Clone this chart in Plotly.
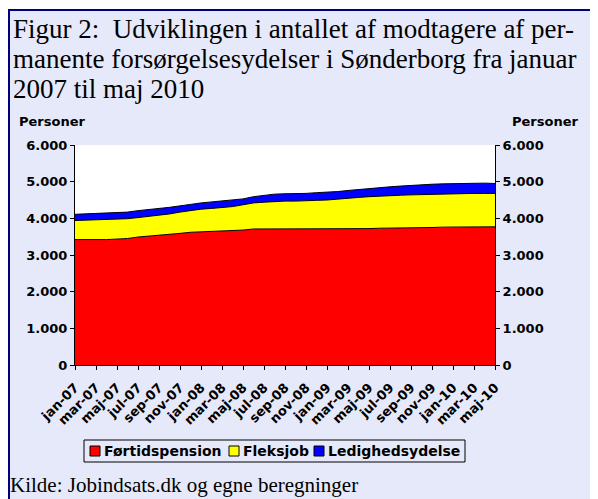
import plotly.graph_objects as go

# maanedlige observationer jan-07 .. maj-10
maanedsnavne = ["jan", "feb", "mar", "apr", "maj", "jun", "jul", "aug", "sep", "okt", "nov", "dec"]
maaneder = [f"{m}-{aar:02d}" for aar in (7, 8, 9, 10) for m in maanedsnavne][:41]

foertidspension = [3420, 3410, 3420, 3420, 3430, 3450, 3490, 3510, 3530, 3560,
                   3590, 3620, 3630, 3640, 3640, 3650, 3680, 3710, 3710, 3720,
                   3710, 3700, 3700, 3700, 3700, 3710, 3710, 3720, 3720, 3730,
                   3730, 3740, 3740, 3750, 3750, 3760, 3760, 3760, 3770, 3770, 3770]
fleksjob = [520, 540, 540, 550, 540, 540, 530, 540, 550, 560,
            580, 600, 620, 630, 650, 670, 690, 710, 730, 740,
            760, 770, 770, 790, 800, 820, 840, 850, 870, 880,
            890, 890, 900, 900, 910, 910, 920, 920, 910, 910, 910]
ledighedsydelse = [170, 170, 170, 170, 170, 180, 190, 200, 190, 180,
                   160, 160, 170, 180, 180, 170, 160, 170, 190, 200,
                   200, 200, 210, 210, 210, 200, 210, 220, 220, 220,
                   240, 250, 260, 260, 270, 270, 270, 280, 290, 280, 270]

aksemaerker = ["jan-07", "mar-07", "maj-07", "jul-07", "sep-07", "nov-07", "jan-08",
               "mar-08", "maj-08", "jul-08", "sep-08", "nov-08", "jan-09", "mar-09",
               "maj-09", "jul-09", "sep-09", "nov-09", "jan-10", "mar-10", "maj-10"]

serier = [("Førtidspension", foertidspension, "#FF0000"),
          ("Fleksjob", fleksjob, "#FFFF00"),
          ("Ledighedsydelse", ledighedsydelse, "#0000FF")]

BG = "#E6E9F9"
NAVY = "#00007F"
# siden har 8 px body-margin, saa figuren goeres tilsvarende mindre
W, H = 590, 491
L, R, T, B = 67, 103, 137, 134


# positioner angives i sidens pixels (plotomraade: x 75-495, y 145-365)
def px_x(px):
    return (px - 75) / 420


def px_y(py):
    return (365 - py) / 220


def boks(x0, x1, y0, y1, fyld, kant=None):
    fig.add_shape(type="rect", xref="paper", yref="paper",
                  x0=px_x(x0), x1=px_x(x1), y0=px_y(y0), y1=px_y(y1),
                  fillcolor=fyld, line=dict(color=kant or fyld, width=1 if kant else 0),
                  layer="below" if kant is None else "above")


fig = go.Figure()
for navn, vaerdier, farve in serier:
    fig.add_trace(go.Scatter(x=maaneder, y=vaerdier, name=navn, stackgroup="a",
                             mode="lines", line=dict(color="black", width=1),
                             fillcolor=farve, showlegend=False, hoverinfo="x+y+name"))
# tom serie, saa hoejre akse bliver tegnet
fig.add_trace(go.Scatter(x=[None], y=[None], yaxis="y2", showlegend=False, hoverinfo="skip"))

tick_font = dict(family="DejaVu Sans", size=13, color="black", weight="bold")

fig.update_layout(
    width=W, height=H,
    margin=dict(l=L, r=R, t=T, b=B, pad=0, autoexpand=False),
    paper_bgcolor=BG, plot_bgcolor="white",
    separators=",.",
    showlegend=False,
    xaxis=dict(type="category", range=[0, 40], tickvals=aksemaerker, ticktext=aksemaerker,
               tickangle=-45, ticks="outside", ticklen=4, tickcolor="black",
               ticklabelstandoff=5,
               showline=True, linecolor="black", linewidth=1, showgrid=False,
               tickfont=dict(family="DejaVu Sans", size=13, color="black", weight="bold")),
    yaxis=dict(range=[0, 6000], dtick=1000, tickformat=",d", ticks="outside", ticklen=4,
               tickcolor="black", showline=True, linecolor="black", linewidth=1,
               showgrid=False, zeroline=False, tickfont=tick_font),
    yaxis2=dict(range=[0, 6000], dtick=1000, tickformat=",d", ticks="outside", ticklen=4,
                tickcolor="black", showline=True, linecolor="black", linewidth=1,
                showgrid=False, zeroline=False, overlaying="y", side="right",
                tickfont=tick_font),
)

# ramme: navy streg foroven og til venstre
boks(8, 600, 8, 9, "white")
boks(8, 600, 9, 11, NAVY)
boks(8, 10, 9, 510, NAVY)

titel = ["Figur 2:  Udviklingen i antallet af modtagere af per-",
         "manente forsørgelsesydelser i Sønderborg fra januar",
         "2007 til maj 2010"]
for i, linje in enumerate(titel):
    fig.add_annotation(text=linje, xref="paper", yref="paper", x=px_x(11), y=px_y(29 + 30 * i),
                       xanchor="left", yanchor="middle", showarrow=False,
                       font=dict(family="Liberation Serif", size=27, color="black"))

for tekst, x, anker in [("Personer", 17, "left"), ("Personer", 580, "right")]:
    fig.add_annotation(text=tekst, xref="paper", yref="paper", x=px_x(x), y=px_y(121),
                       xanchor=anker, yanchor="middle", showarrow=False,
                       font=dict(family="DejaVu Sans", size=13, color="black", weight="bold"))

# forklaring
boks(84, 465, 440, 462, "rgba(0,0,0,0)", "black")
for (navn, _, farve), x in zip(serier, [90, 229, 314]):
    boks(x, x + 10, 446, 456, farve, "black")
    fig.add_annotation(text=navn, xref="paper", yref="paper", x=px_x(x + 12), y=px_y(451),
                       xanchor="left", yanchor="middle", showarrow=False,
                       font=dict(family="DejaVu Sans", size=14, color="black", weight="bold"))

fig.add_annotation(text="Kilde: Jobindsats.dk og egne beregninger", xref="paper", yref="paper",
                   x=px_x(8), y=px_y(485), xanchor="left", yanchor="middle", showarrow=False,
                   font=dict(family="Liberation Serif", size=21, color="black"))

fig.write_html("out.html")
